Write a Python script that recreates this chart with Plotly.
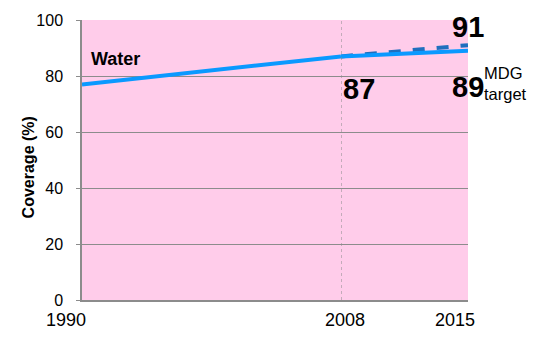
import plotly.graph_objects as go

# ---- data ----
years_hist = [1990, 2008]
water_hist = [77, 87]
years_proj = [2008, 2015]
water_proj = [87, 89]
target_years = [2008, 2015]
target_vals = [87, 91]
ytick_vals = [0, 20, 40, 60, 80, 100]
xtick_years = [1990, 2008, 2015]
series_name = "Water"

FONT = "Liberation Sans, Arial, sans-serif"
GRID = "#8c8c8c"
PINK = "#FFCCEA"
SOLID = "#0A99FF"
DASH = "#1F6FBE"

fig = go.Figure()

# target (dashed) drawn first so solid line overlaps it
fig.add_trace(go.Scatter(x=target_years, y=target_vals, mode="lines", xaxis="x2", yaxis="y",
                         line=dict(color=DASH, width=4, dash="dash"), hoverinfo="skip"))
fig.add_trace(go.Scatter(x=years_hist, y=water_hist, mode="lines", xaxis="x", yaxis="y",
                         line=dict(color=SOLID, width=4), hoverinfo="skip"))
fig.add_trace(go.Scatter(x=years_proj, y=water_proj, mode="lines", xaxis="x2", yaxis="y",
                         line=dict(color=SOLID, width=4), hoverinfo="skip"))

split = (341 - 82) / (468 - 82)

fig.update_layout(
    width=543, height=342,
    margin=dict(l=82, r=75, t=16, b=42),
    paper_bgcolor="white", plot_bgcolor=PINK,
    showlegend=False,
    font=dict(family=FONT, color="black"),
    xaxis=dict(domain=[0, split], range=[xtick_years[0], xtick_years[1]], anchor="y",
               showgrid=False, zeroline=False, showline=True, linecolor=GRID, linewidth=1.5,
               showticklabels=False, ticks=""),
    xaxis2=dict(domain=[split, 1], range=[xtick_years[1], xtick_years[2]], anchor="y",
                showgrid=False, zeroline=False, showline=True, linecolor=GRID, linewidth=1.5,
                showticklabels=False, ticks=""),
    yaxis=dict(range=[0, 100], tickvals=ytick_vals, showgrid=True, gridcolor=GRID, gridwidth=1,
               zeroline=False, showline=True, linecolor=GRID, linewidth=1.5,
               ticks="outside", ticklen=4, tickcolor=GRID, ticklabelstandoff=10,
               tickfont=dict(size=16, family=FONT, color="black")),
)

# 2008 reference line
fig.add_shape(type="line", xref="x2", yref="y", x0=xtick_years[1], x1=xtick_years[1], y0=0, y1=100,
              line=dict(color="#8a8a8a", width=1, dash="dot"), layer="above")

anns = []
# x tick labels
shifts = {1990: -16, 2008: 4, 2015: -13}
for yr in xtick_years:
    anns.append(dict(x=yr, xref="x" if yr == xtick_years[0] else "x2", y=0, yref="y",
                     yanchor="top", yshift=-8, xshift=shifts[yr], text=str(yr), showarrow=False,
                     font=dict(size=18, family=FONT)))
# y axis title
anns.append(dict(x=(18 - 82) / 386, xref="paper", y=(300 - 166) / 284, yref="paper",
                 text="<b>Coverage (%)</b>",
                 textangle=-90, showarrow=False, font=dict(size=16, family=FONT)))
# series label
anns.append(dict(x=xtick_years[0], xref="x", y=86, yref="y", xanchor="left", xshift=7,
                 text="<b>%s</b>" % series_name, showarrow=False, font=dict(size=18, family=FONT)))
# value labels
anns.append(dict(x=years_hist[-1], xref="x2", y=75.4, yref="y", xanchor="left", xshift=0,
                 text="<b>%d</b>" % water_hist[-1], showarrow=False, font=dict(size=29, family=FONT)))
anns.append(dict(x=target_years[-1], xref="x2", y=97.6, yref="y", xanchor="center",
                 text="<b>%d</b>" % target_vals[-1], showarrow=False, font=dict(size=29, family=FONT)))
anns.append(dict(x=years_proj[-1], xref="x2", y=76, yref="y", xanchor="center",
                 text="<b>%d</b>" % water_proj[-1], showarrow=False, font=dict(size=29, family=FONT)))
anns.append(dict(x=years_proj[-1], xref="x2", y=77.2, yref="y", xanchor="left", xshift=14,
                 align="left", text="MDG<br>target", showarrow=False,
                 font=dict(size=16.5, family=FONT)))
fig.update_layout(annotations=anns)

fig.write_html("out.html")
